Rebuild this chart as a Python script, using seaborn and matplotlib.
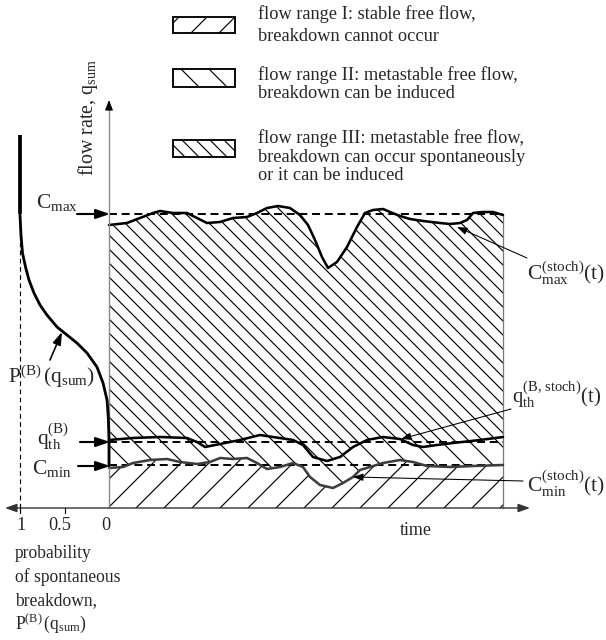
import numpy as np
import pandas as pd
import matplotlib
matplotlib.use("Agg")
import matplotlib.pyplot as plt
from matplotlib.patches import Rectangle
import seaborn as sns

# ---------------------------------------------------------------- data
# time axis (arbitrary units) and flow rate (arbitrary units)
T_END = 394
Q_TOP = 408

# characteristic flow rates
C_MAX = 294
Q_TH = 66
C_MIN = 43

# stochastic capacity C_max^(stoch)(t)
cmax_t = [0, 18, 31, 44, 51, 64, 78, 88, 98, 111, 124, 138, 148, 158, 169, 181, 191, 199,
          206, 213, 219, 228, 238, 248, 256, 264, 274, 281, 291, 301, 314, 331, 341, 351,
          358, 364, 374, 384, 394]
cmax_q = [283, 285, 290, 295, 297, 295, 295, 290, 285, 286, 290, 291, 295, 300, 302, 300, 293, 283,
          268, 251, 240, 246, 261, 281, 295, 298, 299, 296, 292, 289, 287, 285, 284, 285,
          288, 295, 296, 296, 293]

# stochastic threshold q_th^(B, stoch)(t)
qth_t = [0, 24, 51, 78, 88, 96, 111, 131, 151, 164, 184, 194, 204, 218, 231, 244, 258, 274,
         291, 304, 314, 328, 344, 371, 394]
qth_q = [68, 70, 71, 70, 66, 61, 64, 68, 73, 71, 68, 63, 51, 47, 51, 61, 68, 71,
         69, 63, 61, 63, 65, 68, 71]

# stochastic minimum capacity C_min^(stoch)(t)
cmin_t = [0, 14, 24, 41, 58, 71, 88, 101, 111, 124, 138, 148, 158, 171, 184, 194, 201, 211,
          224, 234, 244, 251, 274, 291, 304, 318, 341, 364, 394]
cmin_q = [40, 41, 45, 48, 49, 46, 44, 46, 50, 49, 50, 45, 39, 41, 45, 41, 31, 23,
          20, 25, 31, 38, 45, 48, 46, 42, 41, 42, 43]

# probability of spontaneous breakdown P^(B)(q_sum)
prob_q = [293, 273, 255, 241, 228, 215, 203, 193, 181, 173, 165, 155, 141, 125, 108, 91, 68, 42]
prob_p = [1.0, 0.989, 0.972, 0.938, 0.899, 0.843, 0.775, 0.697, 0.584, 0.472, 0.36, 0.247,
          0.135, 0.067, 0.022, 0.008, 0.0, 0.0]
prob_sat_q = [C_MAX, 373]          # P = 1 above C_max
prob_ticks = [1, 0.5, 0]
prob_ticklabels = ["1", "0.5", "0"]

legend_texts = [
    ["flow range I: stable free flow,", "breakdown cannot occur"],
    ["flow range II: metastable free flow,", "breakdown can be induced"],
    ["flow range III: metastable free flow,", "breakdown can occur spontaneously",
     "or it can be induced"],
]
hatches = ["//", "\\\\", "\\\\\\\\"]

# ---------------------------------------------------------------- style
DPI = 168
sns.set_theme(style="white")
plt.rcParams["font.family"] = ["Liberation Serif", "DejaVu Serif"]
plt.rcParams["mathtext.fontset"] = "custom"
plt.rcParams["mathtext.rm"] = "Liberation Serif"
plt.rcParams["mathtext.it"] = "Liberation Serif:italic"
plt.rcParams["mathtext.bf"] = "Liberation Serif:bold"
plt.rcParams["hatch.linewidth"] = 0.5

fig = plt.figure(figsize=(606 / DPI, 640 / DPI), dpi=DPI)
fig.patch.set_facecolor("white")

# main axes: time vs flow rate
ax = fig.add_axes([0, 0, 1, 1])
ax.set_xlim(-109, 497)
ax.set_ylim(-132, 508)
ax.axis("off")

# probability panel sharing the flow-rate axis, P grows to the left
axp = fig.add_axes([0, 0, 1, 1], sharey=ax)
axp.set_xlim(109 / 89, -497 / 89)
axp.axis("off")
axp.patch.set_alpha(0)

LBL = 9.2
TXT = 7.7

# ---------------------------------------------------------------- hatched flow ranges
def poly(xa, ya, xb, yb):
    return (list(xa) + list(xb)[::-1], list(ya) + list(yb)[::-1])

x1, y1 = poly(cmin_t, cmin_q, [0, T_END], [0, 0])
x2, y2 = poly(cmin_t, cmin_q, qth_t, qth_q)
x3, y3 = poly(qth_t, qth_q, cmax_t, cmax_q)
for (xs, ys), h in zip([(x1, y1), (x2, y2), (x3, y3)], hatches):
    ax.fill(xs, ys, facecolor="none", edgecolor="black", linewidth=0, hatch=h, zorder=1)

# right border of the diagram
ax.plot([T_END, T_END], [0, cmax_q[-1]], color="#7a7a7a", lw=0.55, zorder=2)

# deterministic levels (dashed)
for lev in [C_MAX, Q_TH, C_MIN]:
    ax.plot([0, T_END], [lev, lev], color="black", lw=0.85,
            linestyle=(0, (4.0, 2.4)), zorder=3)

# stochastic curves
df = pd.DataFrame({"t": cmax_t, "q": cmax_q})
sns.lineplot(data=df, x="t", y="q", sort=False, estimator=None, color="black", lw=1.1, ax=ax, zorder=4)
df = pd.DataFrame({"t": qth_t, "q": qth_q})
sns.lineplot(data=df, x="t", y="q", sort=False, estimator=None, color="black", lw=1.1, ax=ax, zorder=4)
df = pd.DataFrame({"t": cmin_t, "q": cmin_q})
sns.lineplot(data=df, x="t", y="q", sort=False, estimator=None, color="#3d3d3d", lw=1.1, ax=ax, zorder=4)

# ---------------------------------------------------------------- probability curve
axp.plot([1, 1], [0, C_MAX], color="black", lw=0.5, linestyle=(0, (4, 3)), zorder=2)
dfp = pd.DataFrame({"P": prob_p, "q": prob_q})
sns.lineplot(data=dfp, x="P", y="q", sort=False, estimator=None, color="black", lw=1.2,
             ax=axp, zorder=4)
axp.plot([1, 1], prob_sat_q, color="black", lw=1.6, solid_capstyle="butt", zorder=4)

# ---------------------------------------------------------------- axes with arrows
# flow-rate axis
ax.plot([0, 0], [0, Q_TOP - 6], color="#8a8a8a", lw=0.6, zorder=5)
ax.annotate("", xy=(0, Q_TOP), xytext=(0, Q_TOP - 8),
            arrowprops=dict(arrowstyle="-|>,head_length=0.36,head_width=0.14",
                            color="black", lw=0.5, shrinkA=0, shrinkB=0, mutation_scale=10),
            zorder=6)
# time / probability axis
ax.annotate("", xy=(421, 0), xytext=(-104, 0),
            arrowprops=dict(arrowstyle="<|-|>,head_length=0.42,head_width=0.15",
                            color="#333333", lw=0.6, shrinkA=0, shrinkB=0, mutation_scale=10),
            zorder=6)
for p in prob_ticks[:-1]:
    axp.plot([p, p], [0, -5], color="black", lw=0.5, zorder=6)
for p, lab, dx in zip(prob_ticks, prob_ticklabels, [0.01, -0.05, -0.035]):
    axp.text(p - dx, -22, lab, ha="center", va="baseline", fontsize=TXT + 0.1)

ax.text(307, -27, "time", ha="center", va="baseline", fontsize=TXT)
ax.text(-21, 390, r"flow rate, $\mathrm{q}_{\mathrm{sum}}$", rotation=90,
        ha="center", va="center", fontsize=8.6)

prob_lines = ["probability", "of spontaneous", "breakdown,",
              r"$\mathrm{P}^{\mathrm{(B)}}\,(\mathrm{q}_{\mathrm{sum}})$"]
for i, s in enumerate(prob_lines):
    ax.text(-94, -50 - 23.5 * i, s, ha="left", va="baseline", fontsize=7.5)

# ---------------------------------------------------------------- level labels and arrows
big_arrow = dict(arrowstyle="-|>,head_length=0.5,head_width=0.17", color="black",
                 lw=0.9, shrinkA=0, shrinkB=0, mutation_scale=10)
ax.text(-73, 300, r"$\mathrm{C}_{\mathrm{max}}$", fontsize=LBL, ha="left", va="baseline")
ax.annotate("", xy=(1, C_MAX), xytext=(-32, C_MAX), arrowprops=big_arrow, zorder=6)
ax.text(-72, 63, r"$\mathrm{q}_{\mathrm{th}}^{\mathrm{(B)}}$", fontsize=LBL, ha="left", va="baseline")
ax.annotate("", xy=(1, Q_TH), xytext=(-29, Q_TH), arrowprops=big_arrow, zorder=6)
ax.text(-77, 34, r"$\mathrm{C}_{\mathrm{min}}$", fontsize=LBL, ha="left", va="baseline")
ax.annotate("", xy=(1, C_MIN - 1), xytext=(-31, C_MIN - 1), arrowprops=big_arrow, zorder=6)

ax.text(-101, 125, r"$\mathrm{P}^{\mathrm{(B)}}\,(\mathrm{q}_{\mathrm{sum}})$", fontsize=LBL,
        ha="left", va="baseline")
ax.annotate("", xy=(-47, 176), xytext=(-59, 148),
            arrowprops=dict(arrowstyle="-|>,head_length=0.45,head_width=0.15", color="black",
                            lw=0.7, shrinkA=0, shrinkB=0, mutation_scale=10), zorder=6)

thin_arrow = dict(arrowstyle="-|>,head_length=0.36,head_width=0.13", color="black",
                  lw=0.45, shrinkA=0, shrinkB=0, mutation_scale=10)
ax.text(418, 228, r"$\mathrm{C}_{\mathrm{max}}^{\mathrm{(stoch)}}\mathrm{(t)}$", fontsize=LBL,
        ha="left", va="baseline")
ax.annotate("", xy=(348, 281), xytext=(418, 250), arrowprops=thin_arrow, zorder=6)
ax.text(403, 105, r"$\mathrm{q}_{\mathrm{th}}^{\mathrm{(B,\,stoch)}}\mathrm{(t)}$", fontsize=LBL - 0.3,
        ha="left", va="baseline")
ax.annotate("", xy=(292, 69), xytext=(402, 99), arrowprops=thin_arrow, zorder=6)
ax.text(418, 16, r"$\mathrm{C}_{\mathrm{min}}^{\mathrm{(stoch)}}\mathrm{(t)}$", fontsize=LBL,
        ha="left", va="baseline")
ax.annotate("", xy=(244, 31), xytext=(414, 27), arrowprops=thin_arrow, zorder=6)

# ---------------------------------------------------------------- legend
box_q = [(475, 491), (421, 439), (351, 368)]
text_base = [[489, 467], [428, 410], [365, 346, 328]]
for (qb, qt), h, lines, bases in zip(box_q, hatches, legend_texts, text_base):
    ax.add_patch(Rectangle((64, qb), 62, qt - qb, facecolor="white", edgecolor="black",
                           lw=0.8, hatch=h, zorder=5))
    for s, b in zip(lines, bases):
        ax.text(149, b, s, ha="left", va="baseline", fontsize=7.9)

fig.savefig("out.png", dpi=DPI, facecolor="white")
